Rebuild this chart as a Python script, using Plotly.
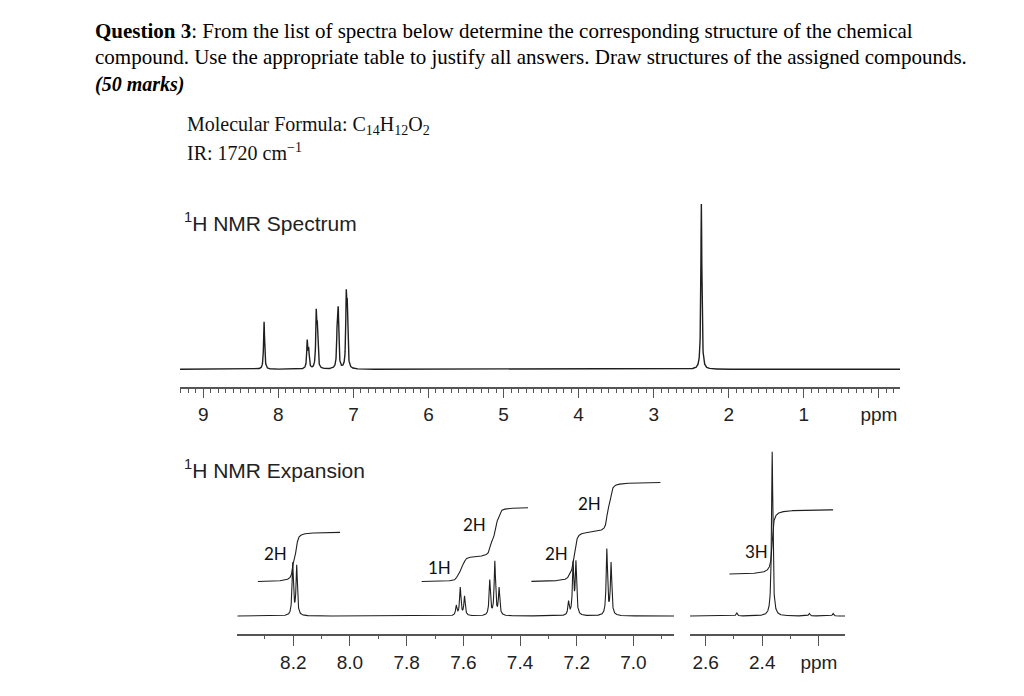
import numpy as np
import plotly.graph_objects as go

# ---------------- data ----------------
# Full 1H spectrum: line positions (ppm) and relative intensities (CH3 = 1)
full_ppm = [8.190, 7.615, 7.596, 7.495, 7.481, 7.215, 7.202, 7.095, 7.082, 2.365]
full_int = [0.288, 0.161, 0.107, 0.313, 0.210, 0.238, 0.309, 0.396, 0.311, 1.000]
full_ticks = [9, 8, 7, 6, 5, 4, 3, 2, 1, 0]
full_ticktext = ["9", "8", "7", "6", "5", "4", "3", "2", "1", "ppm"]

# Expansion: individual lines, relative intensities and multiplet group index
exp_ppm = [8.202, 8.188,
           7.625, 7.611, 7.596,
           7.507, 7.489, 7.474,
           7.229, 7.213, 7.203,
           7.094, 7.079,
           2.490, 2.365, 2.234, 2.150]
exp_int = [0.315, 0.299,
           0.059, 0.169, 0.116,
           0.213, 0.326, 0.163,
           0.080, 0.310, 0.315,
           0.400, 0.315,
           0.018, 1.000, 0.015, 0.015]
exp_group = [0, 0,
             1, 1, 1,
             2, 2, 2,
             3, 3, 3,
             4, 4,
             -1, 5, -1, -1]
group_H = [2, 1, 2, 2, 2, 3]
group_label = ["2H", "1H", "2H", "2H", "2H", "3H"]

# integral segments: ppm start, ppm end, multiplet groups included
seg_start = [8.325, 7.747, 7.360, 2.516]
seg_end = [8.035, 7.372, 6.905, 2.150]
seg_groups = [[0], [1, 2], [3, 4], [5]]

exp1_ticks = [8.2, 8.0, 7.8, 7.6, 7.4, 7.2, 7.0]
exp1_ticktext = ["8.2", "8.0", "7.8", "7.6", "7.4", "7.2", "7.0"]
exp2_ticks = [2.6, 2.4, 2.2]
exp2_ticktext = ["2.6", "2.4", "ppm"]

# ---------------- helpers ----------------
W, H = 1024, 696


def px(x):
    return x / W


def py(y):
    return 1 - y / H


def lorentz(x, centers, heights, w):
    y = np.zeros_like(x)
    for c, h in zip(centers, heights):
        y += h * w * w / ((x - c) ** 2 + w * w)
    return y


def grid(a, b, step, extra):
    g = np.arange(min(a, b), max(a, b), step)
    g = np.concatenate([g, [c for c in extra if min(a, b) <= c <= max(a, b)]])
    return np.sort(g)[::-1]


LINE = "#1f1f1f"
AX = "#555555"

fig = go.Figure()

# ---------------- full spectrum ----------------
top_range = [9.31, -0.281]
xg = grid(top_range[1], top_range[0], 0.002, full_ppm)
fig.add_trace(go.Scatter(x=xg, y=lorentz(xg, full_ppm, full_int, 0.008),
                         mode="lines", line=dict(color=LINE, width=1.4),
                         xaxis="x", yaxis="y", hoverinfo="skip"))

# ---------------- expansion spectra ----------------
e1_range = [8.3975, 6.857]
e2_range = [2.655, 2.108]
xg1 = grid(e1_range[1], e1_range[0], 0.0004, exp_ppm)
xg2 = grid(e2_range[1], e2_range[0], 0.0004, exp_ppm)
fig.add_trace(go.Scatter(x=xg1, y=lorentz(xg1, exp_ppm, exp_int, 0.0028),
                         mode="lines", line=dict(color=LINE, width=1.1),
                         xaxis="x2", yaxis="y2", hoverinfo="skip"))
fig.add_trace(go.Scatter(x=xg2, y=lorentz(xg2, exp_ppm, exp_int, 0.0028),
                         mode="lines", line=dict(color=LINE, width=1.1),
                         xaxis="x3", yaxis="y2", hoverinfo="skip"))

# ---------------- integral curves ----------------
px_per_unit = 164.3
arom_base = 34 / px_per_unit
arom_perH = 25 / px_per_unit
me_base = 41.4 / px_per_unit
me_perH = 21.7 / px_per_unit
w_int = 0.004
for s, e, gs in zip(seg_start, seg_end, seg_groups):
    xs = np.linspace(s, e, 800)
    is_me = 5 in gs
    base = me_base if is_me else arom_base
    perH = me_perH if is_me else arom_perH
    yv = np.full_like(xs, base)
    for g in gs:
        idx = [i for i, gg in enumerate(exp_group) if gg == g]
        tot = sum(exp_int[i] for i in idx)
        for i in idx:
            frac = exp_int[i] / tot
            yv += group_H[g] * perH * frac * (0.5 + np.arctan((exp_ppm[i] - xs) / w_int) / np.pi)
    fig.add_trace(go.Scatter(x=xs, y=yv, mode="lines",
                             line=dict(color=LINE, width=1.1),
                             xaxis="x3" if is_me else "x2", yaxis="y2",
                             hoverinfo="skip"))

# ---------------- axes ----------------
tickfont = dict(family="Liberation Sans, Arial, sans-serif", size=19, color="#222222")


def xax(domain, rng, tv, tt, anchor, ticklen, minor_len, tick0):
    return dict(domain=domain, range=rng, anchor=anchor,
                showline=True, linecolor=AX, linewidth=1.5,
                ticks="outside", ticklen=ticklen, tickwidth=1.3, tickcolor=AX,
                tickmode="array", tickvals=tv, ticktext=tt,
                tickfont=tickfont, showgrid=False, zeroline=False,
                minor=dict(ticks="outside", ticklen=minor_len, tickwidth=1.1,
                           tickcolor=AX, tickmode="linear", tick0=tick0,
                           dtick=0.1, showgrid=False))


top_ybot, top_ytop = 387.3, 200
top_base_px = 18
top_unit = 165.3
exp_ybot, exp_ytop = 633.7, 440
exp_base_px = 17.7

fig.update_layout(
    width=W, height=H,
    margin=dict(l=0, r=0, t=0, b=0),
    paper_bgcolor="white", plot_bgcolor="rgba(0,0,0,0)",
    showlegend=False,
    xaxis=xax([px(180), px(900)], top_range, full_ticks, full_ticktext, "y", 9, 4, 0),
    yaxis=dict(domain=[py(top_ybot), py(top_ytop)],
               range=[-top_base_px / top_unit, (top_ybot - top_ytop - top_base_px) / top_unit],
               visible=False, anchor="x"),
    xaxis2=xax([px(237.3), px(674)], e1_range, exp1_ticks, exp1_ticktext, "y2", 11, 4, 0.1),
    xaxis3=xax([px(690), px(845)], e2_range, exp2_ticks, exp2_ticktext, "y2", 11, 4, 0.1),
    yaxis2=dict(domain=[py(exp_ybot), py(exp_ytop)],
                range=[-exp_base_px / px_per_unit, (exp_ybot - exp_ytop - exp_base_px) / px_per_unit],
                visible=False, anchor="x2"),
)

# ---------------- texts ----------------
serif = "Liberation Serif, Times New Roman, serif"
sans = "Liberation Sans, Arial, sans-serif"


def txt(x, y, s, fam, size, color="#000000"):
    fig.add_annotation(x=px(x), y=py(y), xref="paper", yref="paper", text=s,
                       showarrow=False, xanchor="left", yanchor="middle",
                       font=dict(family=fam, size=size, color=color))


txt(93, 31, "<b>Question 3</b>: From the list of spectra below determine the corresponding structure of the chemical", serif, 21)
txt(93, 57, "compound. Use the appropriate table to justify all answers. Draw structures of the assigned compounds.", serif, 21)
txt(93, 84, "<b><i>(50 marks)</i></b>", serif, 20)
txt(185, 126, "Molecular Formula: C<sub>14</sub>H<sub>12</sub>O<sub>2</sub>", serif, 20, "#111111")
txt(185, 152, "IR: 1720 cm<sup>−1</sup>", serif, 20, "#111111")
txt(182, 222, "<sup>1</sup>H NMR Spectrum", sans, 21, "#222222")
txt(182, 469, "<sup>1</sup>H NMR Expansion", sans, 21, "#222222")

lab_pos = [(275, 553), (439, 567), (474, 524), (556, 553), (589, 503), (756, 551)]
for (lx, ly), lab in zip(lab_pos, group_label):
    fig.add_annotation(x=px(lx), y=py(ly), xref="paper", yref="paper", text=lab,
                       showarrow=False, xanchor="center", yanchor="middle",
                       font=dict(family="Lato, Open Sans, sans-serif", size=17, color="#111111"))

fig.write_html("out.html", config={"displayModeBar": False},
               post_script="document.body.style.margin='0';")
